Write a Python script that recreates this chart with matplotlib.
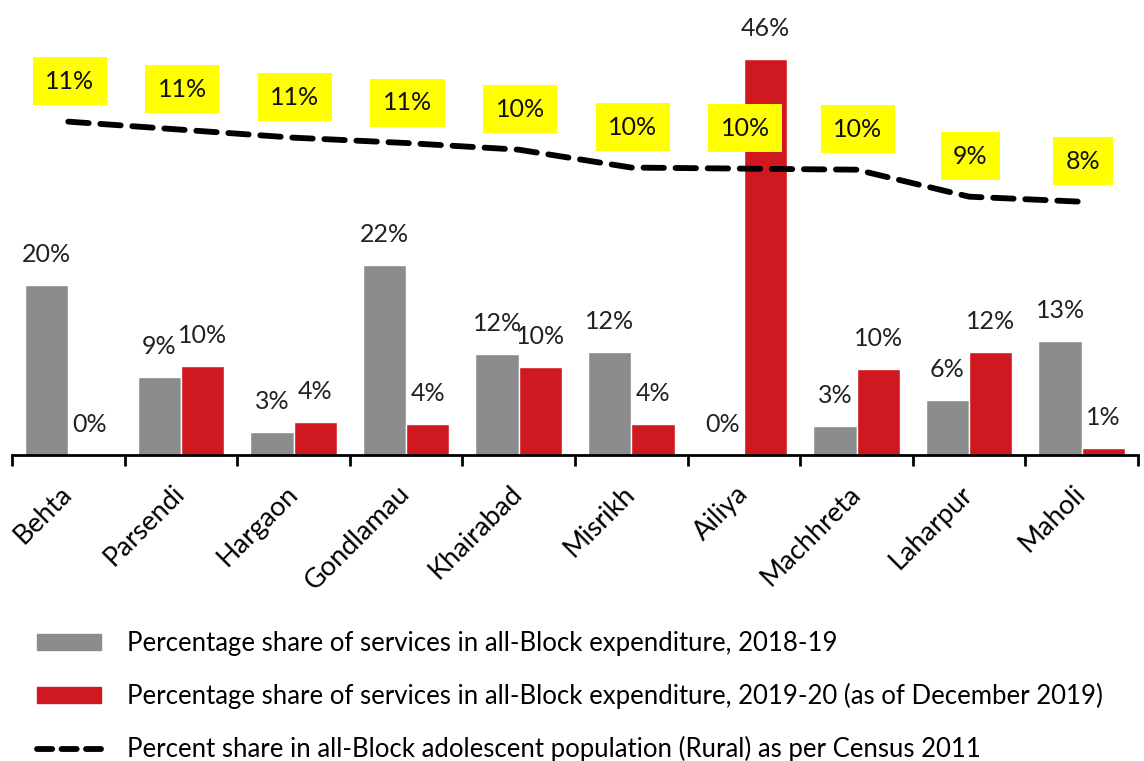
import numpy as np
import matplotlib.pyplot as plt
from matplotlib.lines import Line2D
from matplotlib.patches import Patch

plt.rcParams['font.family'] = ['Lato', 'DejaVu Sans']

# data
blocks = ['Behta', 'Parsendi', 'Hargaon', 'Gondlamau', 'Khairabad',
          'Misrikh', 'Ailiya', 'Machhreta', 'Laharpur', 'Maholi']
share_1819 = [19.8, 9.1, 2.7, 22.1, 11.7, 12.0, 0.0, 3.4, 6.4, 13.3]
share_1920 = [0.0, 10.3, 3.8, 3.6, 10.2, 3.6, 46.0, 10.0, 12.0, 0.8]
pop_share = [11.4, 11.1, 10.8, 10.6, 10.35, 9.68, 9.64, 9.6, 8.59, 8.4]

label_1819 = 'Percentage share of services in all-Block expenditure, 2018-19'
label_1920 = 'Percentage share of services in all-Block expenditure, 2019-20 (as of December 2019)'
label_pop = 'Percent share in all-Block adolescent population (Rural) as per Census 2011'

GRAY = '#8c8c8e'
RED = '#cf181f'

fig = plt.figure(figsize=(11.44, 7.61), dpi=100)
ax = fig.add_axes([12 / 1144, 1 - 455 / 761, 1126 / 1144, 430 / 761])

x = np.arange(len(blocks))
w = 0.385
ax.bar(x - w / 2, share_1819, w, color=GRAY, edgecolor='white', linewidth=1)
ax.bar(x + w / 2, share_1920, w, color=RED, edgecolor='white', linewidth=1)

for i in range(len(blocks)):
    ax.annotate(f'{share_1819[i]:.0f}%', (x[i] - w / 2, share_1819[i]),
                xytext=(0, 22), textcoords='offset points',
                ha='center', va='center', fontsize=18, color='#222222')
    ax.annotate(f'{share_1920[i]:.0f}%', (x[i] + w / 2, share_1920[i]),
                xytext=(0, 22), textcoords='offset points',
                ha='center', va='center', fontsize=18, color='#222222')

ax.set_xlim(-0.5, len(blocks) - 0.5)
ax.set_ylim(0, 50)
ax.set_yticks([])
for s in ['top', 'right', 'left']:
    ax.spines[s].set_visible(False)
ax.spines['bottom'].set_linewidth(2)

ax.set_xticks(x)
ax.set_xticklabels(blocks, rotation=45, ha='right', va='center',
                   rotation_mode='anchor', fontsize=19.5)
ax.tick_params(axis='x', which='major', length=0, pad=25)
ax.set_xticks(np.arange(-0.5, len(blocks)), minor=True)
ax.tick_params(axis='x', which='minor', length=8, width=2, direction='out')

# population share on a second axis
ax2 = ax.twinx()
ax2.set_ylim(-1.086, 15.02)
ax2.axis('off')
ax2.plot(x, pop_share, color='black', linewidth=4.2, linestyle=(0, (3.5, 2)),
         dash_capstyle='round', solid_capstyle='round')
for i in range(len(blocks)):
    ax2.annotate(f'{pop_share[i]:.0f}%', (x[i], pop_share[i]),
                 xytext=(1, 29), textcoords='offset points',
                 ha='center', va='center', fontsize=18, color='#111111',
                 bbox=dict(boxstyle='square,pad=0.5', fc='#ffff00', ec='none'))

handles = [Patch(color=GRAY), Patch(color=RED),
           Line2D([0], [0], color='black', linewidth=4.2,
                  linestyle=(0, (2.6, 1.6)), dash_capstyle='round')]
fig.legend(handles, [label_1819, label_1920, label_pop],
           loc='upper left', bbox_to_anchor=(37 / 1144, 1 - 631 / 761),
           frameon=False, fontsize=18.5, handlelength=2.5, handleheight=0.6,
           handletextpad=1.0, labelspacing=1.05, borderaxespad=0,
           borderpad=0)

fig.savefig('out.png', dpi=100)
